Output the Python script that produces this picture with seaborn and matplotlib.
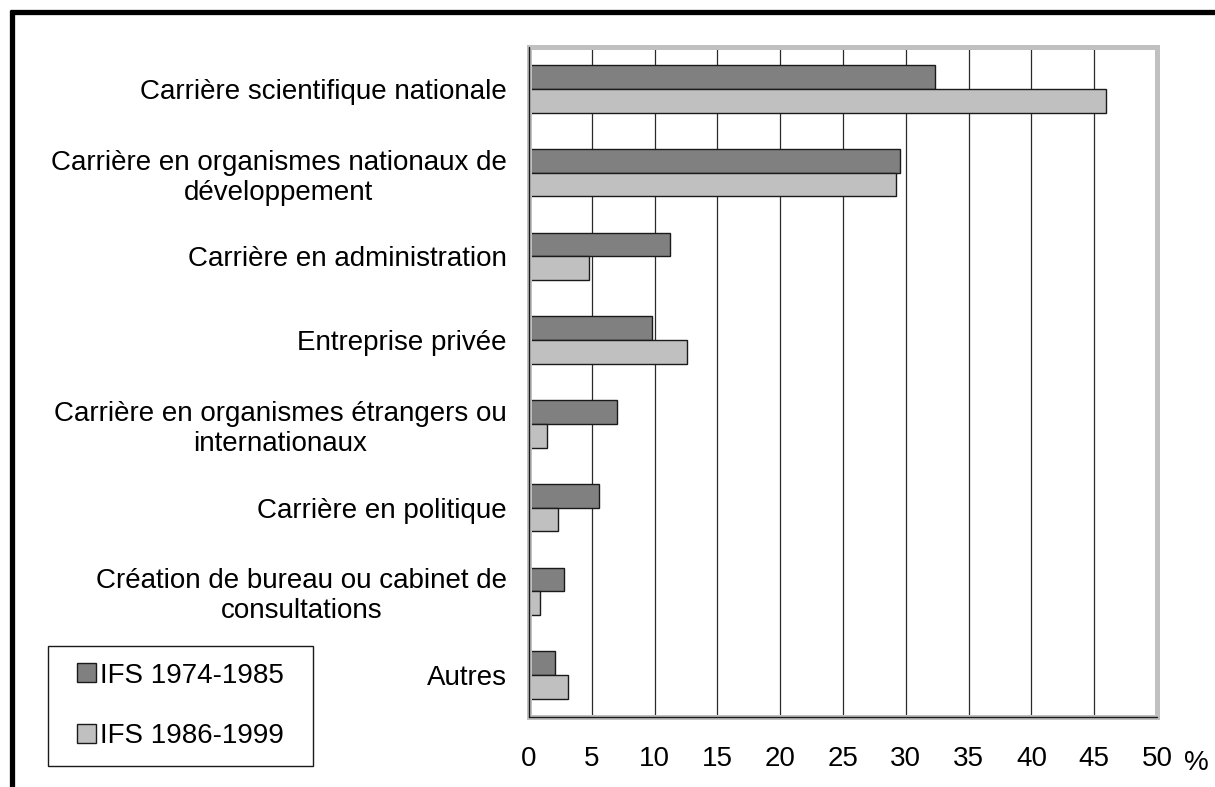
import numpy as np
import pandas as pd
import matplotlib
matplotlib.use("Agg")
import matplotlib.pyplot as plt
from matplotlib.patches import Rectangle
from matplotlib.lines import Line2D
import seaborn as sns

categories = [
    "Carrière scientifique nationale",
    "Carrière en organismes nationaux de\ndéveloppement",
    "Carrière en administration",
    "Entreprise privée",
    "Carrière en organismes étrangers ou\ninternationaux",
    "Carrière en politique",
    "Création de bureau ou cabinet de\nconsultations",
    "Autres",
]
series_names = ["IFS 1974-1985", "IFS 1986-1999"]
values_1974_1985 = [32.3, 29.5, 11.2, 9.8, 7.0, 5.6, 2.8, 2.1]
values_1986_1999 = [45.9, 29.2, 4.8, 12.6, 1.4, 2.3, 0.9, 3.1]
x_ticks = [0, 5, 10, 15, 20, 25, 30, 35, 40, 45, 50]
unit_label = "%"

df = pd.DataFrame({
    "categorie": categories * 2,
    "periode": [series_names[0]] * len(categories) + [series_names[1]] * len(categories),
    "valeur": values_1974_1985 + values_1986_1999,
})

sns.set_style("white")
plt.rcParams["font.family"] = ["Liberation Sans", "DejaVu Sans"]
FS = 20

W, H = 1215, 787
fig = plt.figure(figsize=(W / 100, H / 100), dpi=100)
ax = fig.add_axes([529 / W, 1 - 717 / H, (1157 - 529) / W, (717 - 47) / H])

palette = {series_names[0]: "#808080", series_names[1]: "#c0c0c0"}
sns.barplot(data=df, y="categorie", x="valeur", hue="periode", orient="h",
            palette=palette, saturation=1, width=0.57, edgecolor="#1a1a1a",
            linewidth=1.0, order=categories, hue_order=series_names, ax=ax,
            zorder=3)

ax.set_xlim(0, 50)
ax.set_ylim(7.5, -0.5)
ax.set_xlabel("")
ax.set_ylabel("")

# vertical gridlines
ax.set_xticks(x_ticks)
ax.set_xticklabels([str(t) for t in x_ticks])
ax.xaxis.grid(True, color="#2a2a2a", linewidth=0.9)
ax.yaxis.grid(False)
ax.set_axisbelow(True)

# category ticks sit on category boundaries
ax.set_yticks(np.arange(len(categories)))
ax.set_yticklabels(categories, fontsize=FS, ha="right", multialignment="center",
                   linespacing=1.2)
ax.set_yticks(np.arange(-0.5, len(categories), 1), minor=True)
ax.tick_params(axis="y", which="major", length=0, pad=16)
ax.tick_params(axis="y", which="minor", length=6, width=1, color="#1a1a1a", direction="out")
ax.tick_params(axis="x", which="major", length=6, width=1, color="#1a1a1a",
               direction="out", labelsize=FS, pad=15)
for lbl in ax.get_xticklabels() + ax.get_yticklabels():
    lbl.set_color("black")

# plot-area frame: thick grey border with thin dark axis lines on top
for s in ax.spines.values():
    s.set_visible(False)
ax.add_patch(Rectangle((0, 0), 1, 1, transform=ax.transAxes, fill=False,
                       edgecolor="#c0c0c0", linewidth=3.6, clip_on=False, zorder=4))
ax.plot([0, 0], [0, 1], transform=ax.transAxes, color="#1a1a1a", lw=1.0,
        clip_on=False, zorder=5)
ax.plot([0, 1], [0, 0], transform=ax.transAxes, color="#1a1a1a", lw=1.0,
        clip_on=False, zorder=5)

fig.text(1196 / W, 1 - 763 / H, unit_label, fontsize=FS, ha="center", va="center",
         color="black")

# legend: entries inside a plain rectangular box at lower left
leg = ax.get_legend()
handles = leg.legend_handles
labels = [t.get_text() for t in leg.get_texts()]
leg.remove()
for h in handles:
    h.set_edgecolor("#1a1a1a")
    h.set_linewidth(1.0)
fig.add_artist(Rectangle((48 / W, 1 - 766 / H), (313 - 48) / W, (766 - 646) / H,
                         transform=fig.transFigure, facecolor="white",
                         edgecolor="#1a1a1a", linewidth=1.0))
fig.legend(handles, labels, loc="center left",
           bbox_to_anchor=(77 / W, 1 - 706 / H), bbox_transform=fig.transFigure,
           fontsize=FS, frameon=False, borderaxespad=0, borderpad=0,
           handlelength=0.68, handleheight=0.68, handletextpad=0.13,
           labelspacing=1.25, labelcolor="black")

# thick outer frame (top and left edges)
fig.add_artist(Line2D([10 / W, 1.0], [1 - 12 / H, 1 - 12 / H],
                      transform=fig.transFigure, color="black", lw=3.8,
                      solid_capstyle="butt"))
fig.add_artist(Line2D([11.5 / W, 11.5 / W], [1 - 10 / H, 0.0],
                      transform=fig.transFigure, color="black", lw=3.8,
                      solid_capstyle="butt"))

fig.savefig("out.png", dpi=100, facecolor="white")
